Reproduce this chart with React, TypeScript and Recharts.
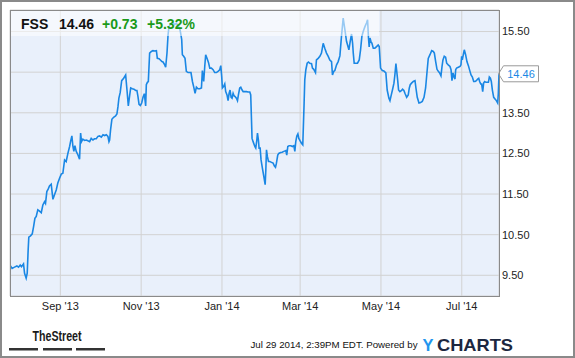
import React from 'react';
import { LineChart, Line, XAxis, YAxis, CartesianGrid, ReferenceDot } from 'recharts';

// FSS daily close, Jul 2013 - Jul 2014
const START = Date.UTC(2013, 6, 25);
const DAY = 86400000;
const LAST_DAY = 369.1;

// calendar days after START
const days = [
  0, 1.6, 3.4, 5.2, 6.4, 7.7, 8.7, 10.2, 11.0, 12.2,
  13.0, 13.7, 14.2, 15.5, 16.8, 17.8, 18.8, 19.8, 21.0, 22.3,
  23.6, 24.8, 26.1, 26.8, 27.8, 28.8, 29.8, 31.1, 32.4, 33.6,
  34.9, 36.1, 37.4, 38.7, 39.9, 41.2, 42.4, 43.7, 45.0, 45.7,
  46.7, 47.5, 48.2, 49.0, 50.0, 51.3, 52.5, 53.3, 54.0, 55.0,
  56.3, 57.6, 58.8, 60.1, 61.3, 62.6, 63.8, 65.1, 66.4, 67.6,
  68.9, 70.2, 71.4, 72.7, 73.9, 74.7,
  75.2, 75.9, 76.9, 78.2, 79.7, 80.7, 81.5, 82.2, 83.2, 84.3,
  85.8, 87.3, 88.3, 89.3, 90.3, 91.1, 92.3, 93.6, 94.8, 95.8,
  96.6, 97.4, 98.4, 99.4, 100.4, 101.4, 102.4, 102.9, 103.7, 104.4,
  105.4, 106.7, 107.9, 109.2, 110.5, 111.2, 112.5, 113.5, 114.7, 115.5,
  116.8, 117.5, 118.5, 119.3, 120.0, 121.3, 122.5, 124.3, 125.6, 126.8,
  128.1, 128.8, 129.6, 130.1, 131.1, 132.1, 133.1, 134.4, 135.6, 136.6,
  137.7, 138.7, 139.7, 140.7, 141.9, 143.2, 144.5, 145.2, 146.2, 147.0,
  147.7, 148.7, 149.8, 150.8,
  152.0, 153.3, 154.5, 155.8, 157.0, 158.3, 159.1, 159.8, 160.3, 161.3,
  162.1, 162.8, 163.8, 164.6, 165.4, 166.1, 166.9, 167.6, 168.4, 169.1,
  169.9, 170.9, 171.7, 172.4, 173.4, 174.2, 175.2, 176.0, 177.2, 178.5,
  179.7, 181.0, 181.7, 182.2, 182.7, 183.5, 184.8, 185.5, 186.3, 186.8,
  187.5, 188.0, 188.8, 189.5, 190.5, 191.6, 192.6, 193.1, 193.6, 194.3,
  195.1, 196.1, 197.4, 198.6, 199.6, 200.4, 201.1, 202.1, 202.9, 204.2,
  205.4, 206.7, 208.2, 208.9, 209.7, 210.7, 212.0, 213.2, 214.2, 215.0,
  215.7, 216.5, 217.3, 218.0, 218.8, 220.0, 221.0, 222.0, 222.5, 223.3,
  224.3, 225.3, 226.3,
  227.6, 228.3, 229.3, 230.6, 231.3, 232.6, 233.9, 235.1, 236.4, 237.6,
  238.9, 240.2, 241.4, 242.7, 243.4, 244.4, 245.2, 246.5, 247.7, 249.0,
  250.2, 251.5, 252.8, 254.0, 254.8, 255.8, 256.8, 257.8, 258.6, 259.1,
  259.8, 261.1, 262.3, 263.6, 264.6, 265.6, 266.6, 267.9, 269.1, 269.9,
  270.6, 271.1, 271.7, 272.4, 273.2, 274.2, 275.4, 276.7, 277.9, 278.7,
  279.7, 281.0, 282.2, 283.7, 284.7, 286.0, 286.8, 287.8, 288.8, 289.8,
  290.5, 291.3, 291.8, 292.6, 293.3, 294.3, 295.6, 296.3, 297.3,
  298.1, 299.4, 300.6, 301.4, 302.1, 303.1, 304.4, 305.7, 306.4, 307.4,
  308.7, 309.9, 311.2, 312.5, 313.7, 314.7, 315.7, 317.0, 318.3, 319.5,
  320.3, 321.3, 322.3, 323.3, 324.3, 325.3, 326.1, 326.8, 327.8, 328.8,
  329.6, 330.8, 332.1, 332.9, 333.6, 334.4, 335.1, 335.9, 336.4, 337.1,
  338.4, 339.7, 340.4, 340.9, 341.4, 342.2, 342.9, 343.9, 344.9, 346.0,
  347.2, 348.0, 349.0, 350.0, 351.0, 352.0, 353.0, 353.8, 354.5, 355.3,
  356.0, 356.8, 357.5, 358.3, 359.3, 360.3, 361.1, 361.8, 362.6, 363.3,
  364.1, 365.1, 366.1, 367.1, 368.1, 368.6, 369.1,
];

const prices = [
  9.75, 9.67, 9.70, 9.73, 9.70, 9.75, 9.71, 9.78, 9.55, 9.43,
  9.55, 10.12, 10.44, 10.47, 10.52, 10.70, 10.90, 10.95, 11.11, 11.08,
  11.04, 11.23, 11.31, 11.27, 11.56, 11.62, 11.70, 11.74, 11.37, 11.48,
  11.60, 11.77, 11.89, 11.99, 12.01, 12.34, 12.30, 12.50, 12.67, 12.79,
  12.93, 12.67, 12.55, 12.69, 12.55, 12.46, 12.36, 13.00, 12.79, 12.85,
  12.82, 12.83, 12.81, 12.79, 12.87, 12.83, 12.86, 12.86, 12.92, 12.93,
  12.90, 12.96, 12.94, 12.96, 12.92, 12.79,
  12.83, 13.08, 13.34, 13.39, 13.42, 13.47, 13.65, 13.86, 14.00, 14.29,
  14.35, 14.43, 14.06, 13.67, 13.92, 14.11, 14.09, 14.08, 14.05, 14.05,
  13.90, 13.71, 13.68, 13.74, 13.88, 13.97, 13.67, 14.19, 14.25, 14.27,
  14.97, 15.01, 15.03, 15.02, 15.03, 14.84, 14.83, 14.80, 14.76, 14.75,
  14.68, 14.62, 14.97, 15.42, 15.62, 15.69, 15.73, 15.67, 15.71, 15.64,
  15.58, 15.46, 15.30, 14.93, 14.89, 14.84, 14.52, 14.49, 14.49, 14.49,
  14.27, 14.13, 13.98, 14.13, 14.09, 14.09, 14.11, 14.54, 14.27, 14.64,
  14.93, 14.84, 14.74, 14.60,
  14.60, 14.56, 14.49, 14.49, 14.52, 14.56, 14.66, 14.39, 14.11, 14.15,
  14.21, 14.02, 13.94, 13.80, 13.98, 14.06, 13.88, 13.86, 13.98, 13.92,
  13.90, 13.86, 13.80, 13.94, 14.11, 14.13, 14.06, 14.02, 14.02, 14.02,
  14.01, 14.01, 13.94, 13.41, 12.87, 12.79, 12.67, 12.63, 12.83, 13.00,
  12.83, 12.63, 12.63, 12.34, 12.14, 11.93, 11.73, 12.09, 12.59, 12.42,
  12.30, 12.30, 12.28, 12.26, 12.19, 12.16, 12.26, 12.46, 12.50, 12.52,
  12.53, 12.55, 12.57, 12.46, 12.67, 12.69, 12.69, 12.67, 12.69, 12.55,
  12.79, 12.93, 12.98, 12.87, 12.82, 12.75, 12.71, 13.74, 14.31, 14.56,
  14.72, 14.75, 14.72,
  14.71, 14.60, 14.57, 14.49, 14.80, 14.84, 14.89, 14.97, 15.21, 15.09,
  14.97, 14.89, 14.80, 14.76, 14.43, 14.52, 14.54, 14.68, 14.76, 14.90,
  15.38, 15.83, 15.54, 15.26, 15.17, 15.05, 15.26, 15.44, 15.21, 14.97,
  14.72, 14.72, 14.72, 14.80, 15.05, 15.38, 15.50, 15.62, 15.71, 15.79,
  15.34, 15.12, 15.34, 15.26, 15.21, 15.09, 15.09, 15.13, 15.17, 15.13,
  14.60, 14.54, 14.53, 14.48, 14.06, 13.86, 13.80, 13.94, 14.08, 14.23,
  14.43, 14.71, 14.56, 14.31, 14.06, 14.02, 14.05, 14.08, 14.05,
  13.98, 13.88, 13.94, 14.11, 14.19, 14.23, 14.27, 14.29, 14.11, 13.88,
  13.74, 13.75, 13.78, 13.88, 14.11, 14.48, 14.84, 14.93, 15.03, 15.01,
  14.97, 14.76, 14.57, 14.52, 14.48, 14.41, 14.64, 14.80, 14.89, 14.87,
  14.72, 14.68, 14.64, 14.56, 14.29, 14.48, 14.39, 14.33, 14.56, 14.60,
  14.62, 14.64, 14.68, 14.89, 14.80, 14.94, 15.05, 14.93, 14.76, 14.66,
  14.52, 14.43, 14.38, 14.27, 14.27, 14.29, 14.33, 14.35, 14.27, 14.21,
  14.21, 14.02, 14.23, 14.27, 14.25, 14.25, 14.25, 14.38, 14.35, 14.27,
  14.06, 13.88, 13.84, 13.80, 13.74, 13.98, 14.46,
];

const yTicks = [9.5, 10.5, 11.5, 12.5, 13.5, 14.5, 15.5];
const monthTicks: [number, number][] = [[2013, 8], [2013, 10], [2014, 0], [2014, 2], [2014, 4], [2014, 6]];
const MONTHS = ['Jan', 'Feb', 'Mar', 'Apr', 'May', 'Jun', 'Jul', 'Aug', 'Sep', 'Oct', 'Nov', 'Dec'];

const symbol = 'FSS';
const lastPrice = 14.46;
const change = '+0.73';
const changePct = '+5.32%';
const stamp = 'Jul 29 2014, 2:39PM EDT. Powered by';

const LINE = '#1a87e4';
const FONT = "'Liberation Sans', Arial, sans-serif";

const data = days.map((d, i) => ({ t: START + d * DAY, price: prices[i] }));
const xTicks = monthTicks.map(([y, m]) => Date.UTC(y, m, 1));

const fmtMonth = (t: number) => {
  const d = new Date(t);
  return `${MONTHS[d.getUTCMonth()]} '${String(d.getUTCFullYear()).slice(2)}`;
};

// the price tag takes the place of the nearest axis label
const fmtPrice = (v: number) => (Math.abs(v - lastPrice) < 0.25 ? '' : v.toFixed(2));

const PriceTag = (props: any) => {
  const { cx, cy } = props;
  return (
    <g>
      <path
        d={`M${cx - 0.5},${cy} L${cx + 4.5},${cy - 8} L${cx + 39.5},${cy - 8} L${cx + 39.5},${cy + 8} L${cx + 4.5},${cy + 8} Z`}
        fill="#fff"
        stroke="#9a9a9a"
      />
      <text x={cx + 22} y={cy} dy="0.36em" textAnchor="middle" fontSize={11} fill={LINE} fontFamily={FONT}>
        {lastPrice.toFixed(2)}
      </text>
    </g>
  );
};

export default function App() {
  return (
    <div style={{ position: 'absolute', left: 0, top: 0, width: 575, height: 358, background: '#fff', fontFamily: FONT }}>
      <LineChart width={575} height={358} data={data} margin={{ top: 10, right: 0, bottom: 42, left: 10 }}>
        <CartesianGrid fill="#e9f0fb" stroke="#d2d2d2" />
        <XAxis
          dataKey="t"
          type="number"
          domain={[START, START + LAST_DAY * DAY]}
          allowDataOverflow
          ticks={xTicks}
          interval={0}
          tickFormatter={fmtMonth}
          axisLine={false}
          tickLine={false}
          tickSize={0}
          tickMargin={6}
          height={20}
          tick={{ fontSize: 11, fill: '#222', fontFamily: FONT }}
        />
        <YAxis
          orientation="right"
          type="number"
          domain={[8.99, 16.03]}
          allowDataOverflow
          ticks={yTicks}
          interval={0}
          tickFormatter={fmtPrice}
          axisLine={false}
          tickLine={false}
          tickSize={0}
          tickMargin={3}
          width={76}
          tick={{ fontSize: 11, fill: '#222', fontFamily: FONT, textAnchor: 'start' }}
        />
        <Line
          type="linear"
          dataKey="price"
          stroke={LINE}
          strokeWidth={1.6}
          dot={false}
          activeDot={false}
          isAnimationActive={false}
        />
        <ReferenceDot x={START + LAST_DAY * DAY} y={lastPrice} shape={PriceTag} ifOverflow="visible" />
      </LineChart>

      <svg width={575} height={358} style={{ position: 'absolute', left: 0, top: 0, pointerEvents: 'none' }}>
        {/* quote header band over the plot */}
        <rect x={11} y={11} width={368} height={25} fill="rgba(255,255,255,0.55)" />
        <g fontFamily={FONT} fontWeight="bold" fontSize={14}>
          <text x={21} y={28.5} fill="#111">{symbol}</text>
          <text x={59} y={28.5} fill="#111">{lastPrice.toFixed(2)}</text>
          <text x={102} y={28.5} fill="#1a9a1a">{change}</text>
          <text x={147} y={28.5} fill="#1a9a1a">{changePct}</text>
        </g>
        {/* plot frame */}
        <rect x={10.5} y={10.5} width={489} height={286} fill="none" stroke="#8a8a8a" />

        {/* footer */}
        <text x={32.5} y={341} fontFamily={FONT} fontWeight="bold" fontSize={14} fill="#1a1a1a" textLength={49} lengthAdjust="spacingAndGlyphs">
          TheStreet
        </text>
        <rect x={9} y={348} width={29} height={2.5} fill="#333" />
        <rect x={43} y={348} width={29} height={2.5} fill="#333" />
        <rect x={76} y={348} width={29} height={2.5} fill="#333" />
        <text x={250.5} y={348} fontFamily={FONT} fontSize={9.8} fill="#111" textLength={167} lengthAdjust="spacingAndGlyphs">
          {stamp}
        </text>
        <text x={422.5} y={350.5} fontFamily={FONT} fontWeight="bold" fontSize={17} fill="#2196ee" textLength={11} lengthAdjust="spacingAndGlyphs">
          Y
        </text>
        <text x={437} y={350.5} fontFamily={FONT} fontWeight="bold" fontSize={17} fill="#1c2740" textLength={76} lengthAdjust="spacingAndGlyphs">
          CHARTS
        </text>
      </svg>
      <div style={{ position: 'absolute', left: 0, top: 0, width: 575, height: 358, border: '2px solid #8a8a8a', boxSizing: 'border-box', pointerEvents: 'none' }} />
    </div>
  );
}
